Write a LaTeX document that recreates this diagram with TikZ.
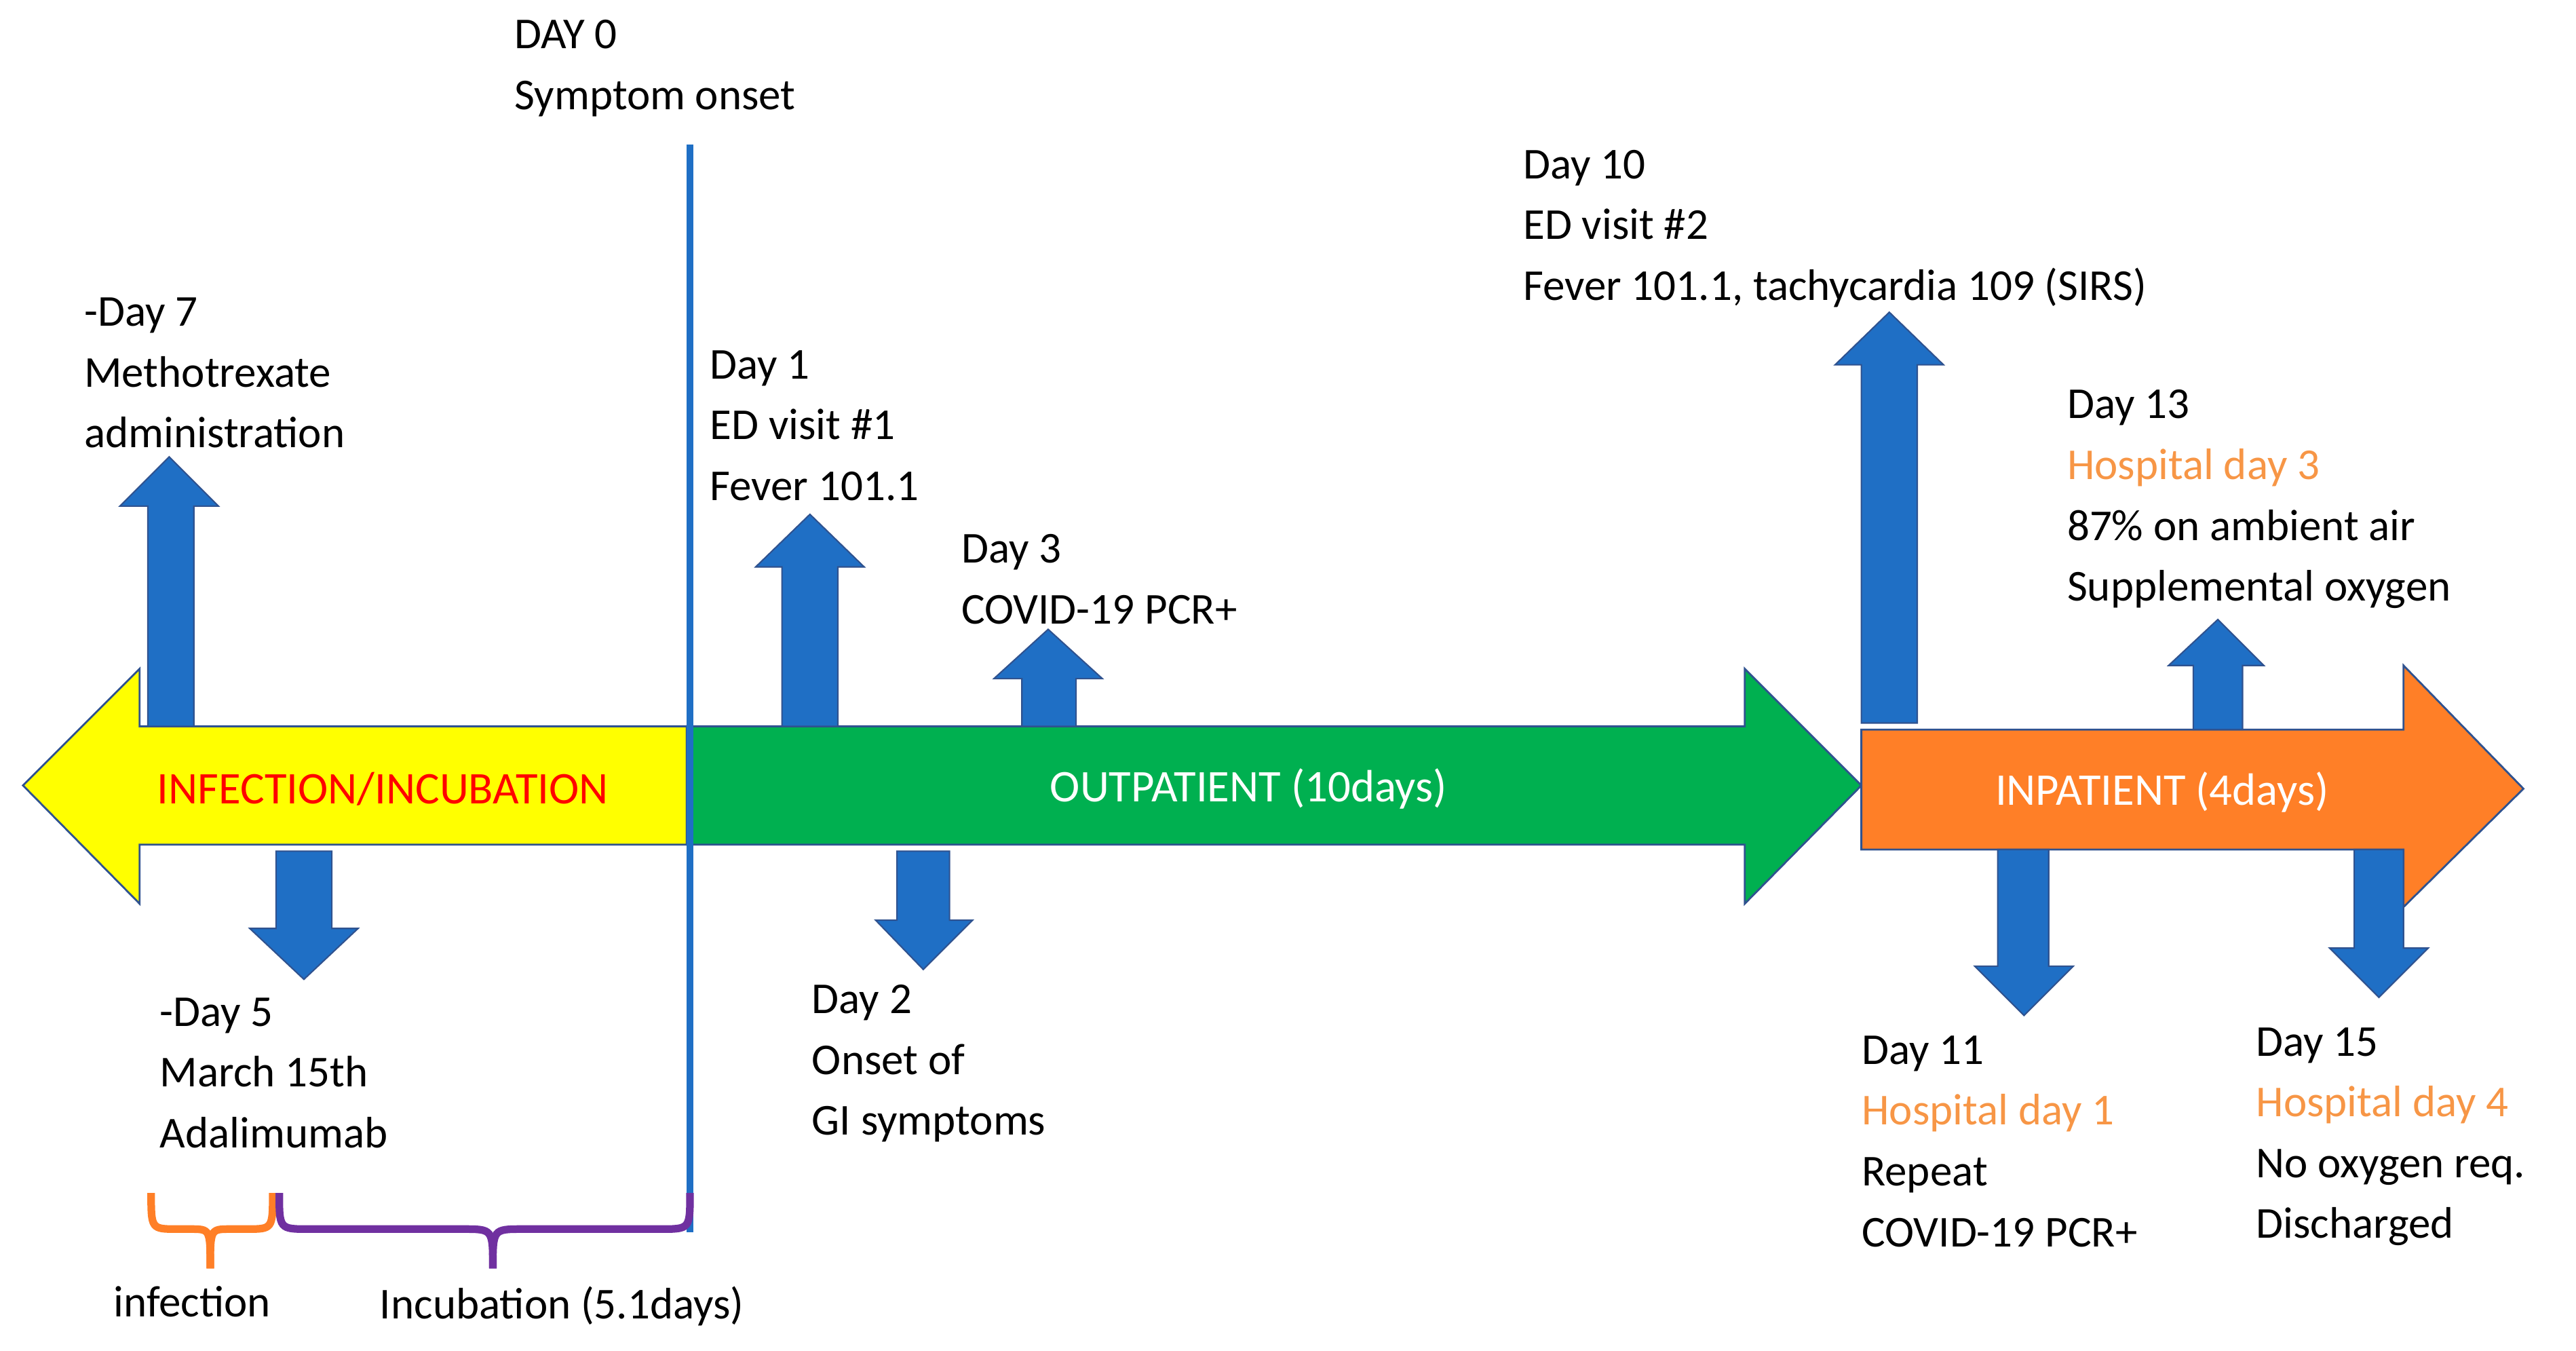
\documentclass[tikz,border=0pt]{standalone}
\usepackage{fontspec}
\setmainfont{Carlito}
\definecolor{bl}{HTML}{1F6FC5}
\definecolor{bld}{HTML}{2F528F}
\definecolor{yl}{HTML}{FFFF00}
\definecolor{gr}{HTML}{00B050}
\definecolor{og}{HTML}{FF7F27}
\definecolor{ogt}{HTML}{F79646}
\definecolor{pu}{HTML}{7030A0}
\begin{document}
\begin{tikzpicture}[x=0.02421cm,y=-0.02421cm,
  lbl/.style={anchor=north west,align=left,inner sep=0pt,font=\fontsize{18.5}{25.5}\selectfont},
  bar/.style={draw=bld,line width=0.8pt},
  blarrow/.style={fill=bl,draw=bld,line width=0.6pt}]
\useasboundingbox (0,0) rectangle (1568,822);
% main arrows
\draw[bar,fill=yl] (14,478) -- (85,407) -- (85,442) -- (418,442) -- (418,514) -- (85,514) -- (85,550) -- cycle;
\draw[bar,fill=gr] (418,442) -- (1062,442) -- (1062,407) -- (1133,478) -- (1062,550) -- (1062,514) -- (418,514) -- cycle;
\draw[bar,fill=og] (1133,444) -- (1463,444) -- (1463,405) -- (1536,480) -- (1463,552) -- (1463,517) -- (1133,517) -- cycle;
\node[text=red,font=\fontsize{19}{22}\selectfont] (t1) at (233,480) {INFECTION/INCUBATION};
\node[text=white,font=\fontsize{19}{22}\selectfont] (t2) at (760,480) {OUTPATIENT (10days)};
\node[text=white,font=\fontsize{19}{22}\selectfont] (t3) at (1316,482) {INPATIENT (4days)};
% vertical line
\draw[bl,line width=2.8pt] (420,88) -- (420,750);
% up arrows
\draw[blarrow] (90,442) -- (90,308) -- (73,308) -- (103,278) -- (133,308) -- (118,308) -- (118,442) -- cycle;
\draw[blarrow] (476,442) -- (476,345) -- (460,345) -- (493,313) -- (526,345) -- (510,345) -- (510,442) -- cycle;
\draw[blarrow] (622,442) -- (622,413) -- (605,413) -- (638,383) -- (671,413) -- (655,413) -- (655,442) -- cycle;
\draw[blarrow] (1133,440) -- (1133,222) -- (1117,222) -- (1150,190) -- (1183,222) -- (1167,222) -- (1167,440) -- cycle;
\draw[blarrow] (1335,444) -- (1335,405) -- (1320,405) -- (1350,377) -- (1378,405) -- (1365,405) -- (1365,444) -- cycle;
% down arrows
\draw[blarrow] (168,518) -- (168,565) -- (152,565) -- (185,596) -- (218,565) -- (202,565) -- (202,518) -- cycle;
\draw[blarrow] (546,518) -- (546,560) -- (533,560) -- (562,590) -- (592,560) -- (578,560) -- (578,518) -- cycle;
\draw[blarrow] (1216,517) -- (1216,588) -- (1202,588) -- (1232,618) -- (1262,588) -- (1247,588) -- (1247,517) -- cycle;
\draw[blarrow] (1433,517) -- (1433,577) -- (1418,577) -- (1448,607) -- (1478,577) -- (1463,577) -- (1463,517) -- cycle;
% labels
\node[lbl] (d0) at (313,12) {DAY 0\\Symptom onset};
\node[lbl] (dm7) at (51,181) {-Day 7\\Methotrexate\\administration};
\node[lbl] (d1) at (432,213) {Day 1\\ED visit \#1\\Fever 101.1};
\node[lbl] (d3) at (585,325) {Day 3\\COVID-19 PCR+};
\node[lbl] (d10) at (927,91) {Day 10\\ED visit \#2\\Fever 101.1, tachycardia 109 (SIRS)};
\node[lbl] (d13) at (1258,237) {Day 13\\\textcolor{ogt}{Hospital day 3}\\87\% on ambient air\\Supplemental oxygen};
\node[lbl] (dm5) at (97,607) {-Day 5\\March 15th\\Adalimumab};
\node[lbl] (d2) at (494,599) {Day 2\\Onset of\\GI symptoms};
\node[lbl] (d11) at (1133,630) {Day 11\\\textcolor{ogt}{Hospital day 1}\\Repeat\\COVID-19 PCR+};
\node[lbl] (d15) at (1373,625) {Day 15\\\textcolor{ogt}{Hospital day 4}\\No oxygen req.\\Discharged};
% braces
\draw[og,line width=3.2pt] (92,726) .. controls (92,748) .. (108,748) -- (116,748) .. controls (128,748) .. (128,772);
\draw[og,line width=3.2pt] (166,726) .. controls (166,748) .. (150,748) -- (140,748) .. controls (128,748) .. (128,772);
\draw[pu,line width=3.2pt] (170,726) .. controls (170,748) .. (188,748) -- (282,748) .. controls (300,748) .. (300,772);
\draw[pu,line width=3.2pt] (420,726) .. controls (420,748) .. (402,748) -- (318,748) .. controls (300,748) .. (300,772);
\node[font=\fontsize{18.5}{22}\selectfont,inner sep=0pt] (inf) at (117,792) {infection};
\node[font=\fontsize{18.5}{22}\selectfont,inner sep=0pt] (inc) at (342,795) {Incubation (5.1days)};
\end{tikzpicture}
\end{document}
